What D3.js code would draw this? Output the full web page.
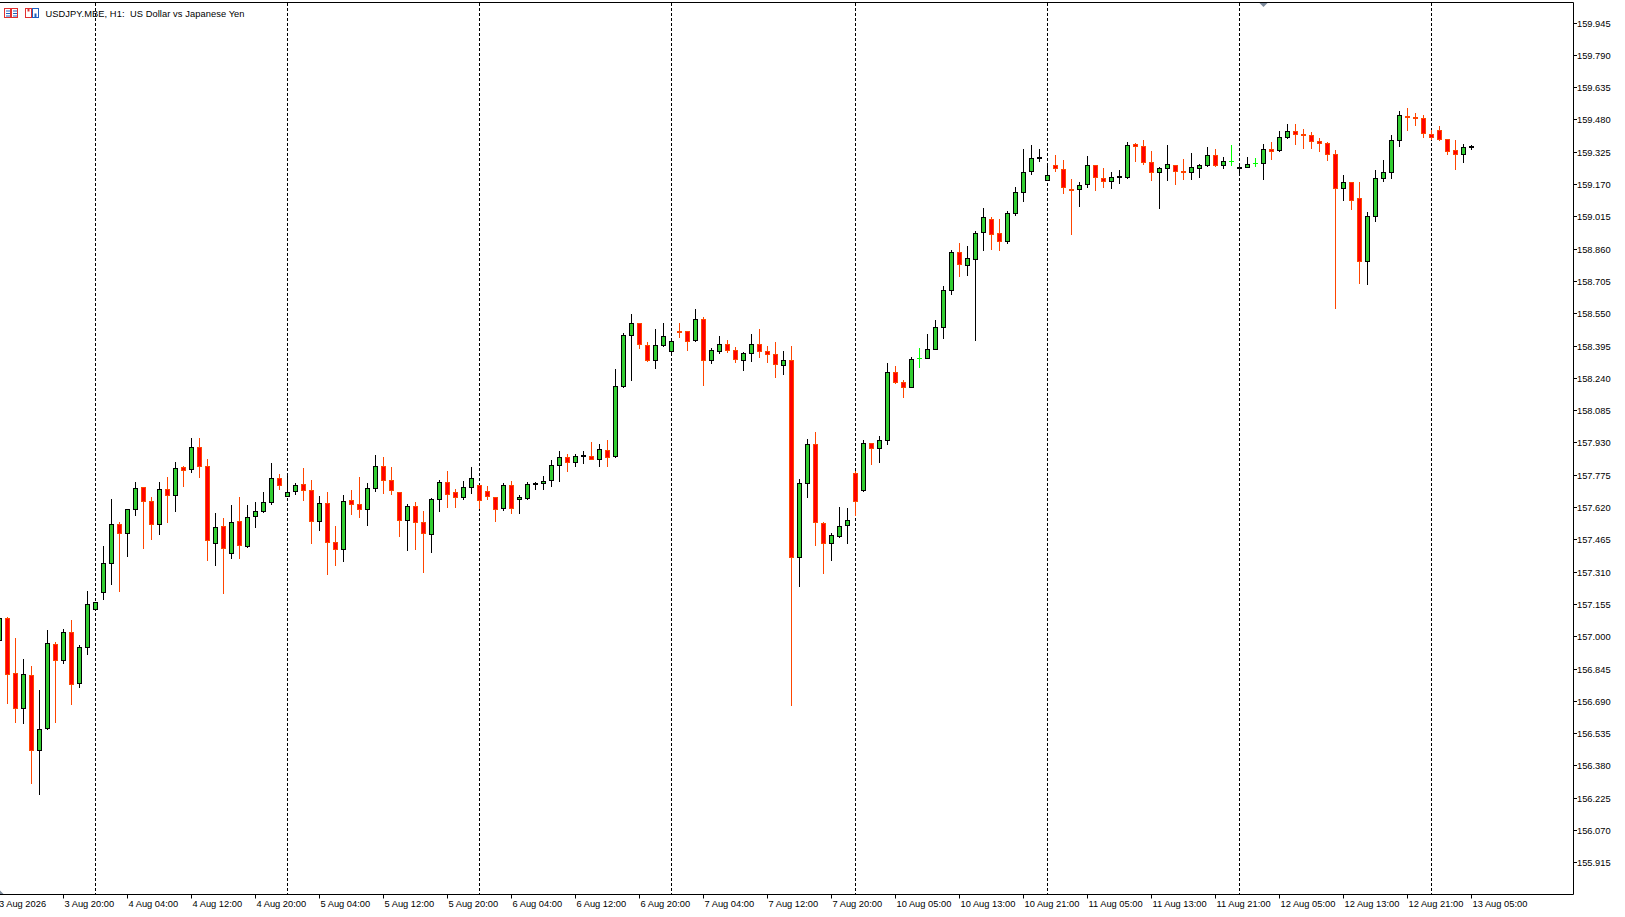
<!DOCTYPE html>
<html><head><meta charset="utf-8">
<script src="https://cdn.jsdelivr.net/npm/d3@7/dist/d3.min.js"></script>
<style>html,body{margin:0;padding:0;background:#fff;overflow:hidden}</style>
</head><body>
<svg id="c" width="1625" height="917"></svg>
<script>
// ---- data: USDJPY H1, bars from 3 Aug 12:00 to 13 Aug 05:00 ----
const opens = [156.981,157.086,156.822,156.654,156.813,156.454,156.558,156.961,156.885,157.019,156.774,156.947,157.129,157.211,157.350,157.537,157.494,157.609,157.715,157.648,157.537,157.705,157.676,157.811,157.801,157.907,157.815,157.446,157.528,157.398,157.552,157.432,157.576,157.600,157.643,157.758,157.671,157.695,157.729,157.700,157.552,157.638,157.451,157.417,157.652,157.633,157.609,157.710,157.815,157.748,157.691,157.556,157.624,157.547,157.489,157.657,157.739,157.691,157.667,157.715,157.724,157.695,157.667,157.614,157.724,157.657,157.662,157.729,157.734,157.748,157.820,157.859,157.835,157.863,157.863,157.849,157.892,157.863,158.199,158.444,158.502,158.396,158.324,158.396,158.367,158.465,158.463,158.420,158.521,158.324,158.367,158.401,158.372,158.324,158.358,158.401,158.367,158.353,158.300,158.324,157.379,157.734,157.921,157.542,157.446,157.480,157.532,157.782,157.700,157.926,157.902,157.940,158.267,158.219,158.195,158.334,158.334,158.377,158.482,158.660,158.842,158.780,158.809,158.938,159.001,158.934,158.895,159.029,159.130,159.231,159.293,159.188,159.260,159.241,159.147,159.145,159.169,159.260,159.197,159.183,159.202,159.202,159.361,159.351,159.274,159.226,159.245,159.260,159.233,159.226,159.245,159.260,159.308,159.260,159.279,159.245,159.250,159.269,159.269,159.337,159.332,159.394,159.423,159.408,159.404,159.375,159.365,159.313,159.149,159.178,159.101,158.799,159.015,159.197,159.226,159.380,159.495,159.490,159.485,159.409,159.428,159.385,159.332,159.313,159.346];
const highs = [157.116,157.092,156.992,156.889,156.857,156.742,157.030,156.972,157.035,157.078,156.957,157.217,157.166,157.432,157.657,157.547,157.609,157.739,157.715,157.667,157.739,157.763,157.835,157.815,157.950,157.950,157.849,157.590,157.566,157.628,157.667,157.628,157.643,157.691,157.830,157.777,157.767,157.734,157.806,157.748,157.671,157.691,157.528,157.676,157.700,157.763,157.734,157.868,157.859,157.811,157.691,157.633,157.643,157.600,157.662,157.748,157.791,157.705,157.743,157.811,157.724,157.719,157.667,157.734,157.743,157.676,157.739,157.739,157.767,157.844,157.887,157.873,157.873,157.887,157.931,157.921,157.940,158.281,158.454,158.545,158.502,158.410,158.473,158.502,158.415,158.502,158.463,158.569,158.530,158.382,158.439,158.420,158.386,158.362,158.449,158.473,158.391,158.410,158.367,158.391,157.753,157.945,157.979,157.547,157.494,157.619,157.614,157.791,157.940,157.926,157.959,158.310,158.295,158.228,158.338,158.382,158.449,158.516,158.679,158.852,158.886,158.871,158.943,159.053,159.010,159.001,159.039,159.154,159.337,159.356,159.337,159.265,159.308,159.284,159.193,159.178,159.303,159.260,159.245,159.226,159.236,159.370,159.365,159.380,159.327,159.250,159.356,159.260,159.289,159.317,159.265,159.346,159.337,159.298,159.356,159.269,159.298,159.293,159.361,159.370,159.423,159.457,159.457,159.433,159.418,159.389,159.370,159.332,159.212,159.178,159.178,159.034,159.236,159.284,159.404,159.519,159.533,159.509,159.500,159.428,159.447,159.385,159.380,159.361,159.356];
const lows = [156.958,156.678,156.587,156.582,156.296,156.243,156.553,156.590,156.873,156.673,156.755,156.916,157.126,157.180,157.252,157.219,157.386,157.583,157.425,157.468,157.492,157.550,157.602,157.722,157.787,157.766,157.366,157.342,157.208,157.374,157.374,157.427,157.523,157.595,157.633,157.705,157.671,157.681,157.652,157.446,157.508,157.299,157.342,157.361,157.585,157.571,157.532,157.695,157.686,157.681,157.480,157.412,157.417,157.308,157.403,157.600,157.619,157.619,157.657,157.686,157.614,157.657,157.552,157.604,157.590,157.590,157.657,157.705,157.705,157.719,157.743,157.791,157.815,157.830,157.849,157.815,157.815,157.859,158.195,158.228,158.382,158.319,158.286,158.391,158.362,158.434,158.372,158.415,158.207,158.310,158.358,158.362,158.314,158.279,158.319,158.338,158.314,158.243,158.257,156.669,157.240,157.667,157.436,157.302,157.364,157.475,157.446,157.580,157.695,157.825,157.835,157.921,158.214,158.147,158.195,158.291,158.334,158.377,158.430,158.641,158.727,158.732,158.420,158.852,158.857,158.852,158.886,159.020,159.087,159.217,159.279,159.188,159.231,159.125,158.929,159.063,159.154,159.140,159.154,159.149,159.173,159.197,159.279,159.265,159.188,159.053,159.188,159.169,159.193,159.193,159.202,159.255,159.255,159.245,159.260,159.226,159.250,159.255,159.193,159.289,159.327,159.389,159.361,159.341,159.341,159.327,159.284,158.574,159.092,159.049,158.694,158.689,158.991,159.183,159.197,159.351,159.428,159.452,159.394,159.385,159.380,159.313,159.241,159.274,159.337];
const closes = [157.086,156.817,156.657,156.817,156.454,156.553,156.966,156.885,157.019,156.769,156.947,157.153,157.163,157.350,157.537,157.494,157.609,157.710,157.648,157.537,157.705,157.676,157.806,157.796,157.907,157.815,157.460,157.523,157.422,157.547,157.436,157.571,157.600,157.643,157.758,157.724,157.691,157.724,157.700,157.552,157.638,157.451,157.417,157.648,157.633,157.609,157.710,157.815,157.748,157.700,157.556,157.624,157.547,157.494,157.657,157.739,157.681,157.667,157.715,157.758,157.652,157.671,157.609,157.724,157.614,157.667,157.729,157.734,157.743,157.820,157.859,157.835,157.863,157.868,157.849,157.897,157.859,158.199,158.444,158.502,158.401,158.324,158.396,158.439,158.415,158.461,158.415,158.521,158.324,158.372,158.401,158.372,158.329,158.358,158.401,158.367,158.353,158.305,158.324,157.379,157.734,157.921,157.547,157.446,157.484,157.528,157.556,157.648,157.926,157.902,157.940,158.267,158.219,158.195,158.329,158.334,158.377,158.482,158.660,158.842,158.785,158.814,158.934,159.010,158.929,158.895,159.029,159.130,159.226,159.293,159.298,159.212,159.245,159.154,159.143,159.164,159.260,159.202,159.183,159.202,159.207,159.356,159.351,159.274,159.226,159.245,159.265,159.231,159.229,159.250,159.260,159.308,159.260,159.279,159.279,159.250,159.265,159.269,159.337,159.327,159.394,159.423,159.409,159.404,159.375,159.365,159.313,159.149,159.178,159.092,158.799,159.015,159.197,159.226,159.380,159.500,159.491,159.486,159.413,159.394,159.385,159.327,159.313,159.346,159.351];
// bar indices where a new trading day starts (period separators)
const dayStarts = [12, 36, 60, 84, 107, 131, 155, 179];
// time-axis labels, one every 8 bars starting at bar 8
const timeLabels = ["3 Aug 20:00","4 Aug 04:00","4 Aug 12:00","4 Aug 20:00","5 Aug 04:00","5 Aug 12:00","5 Aug 20:00","6 Aug 04:00","6 Aug 12:00","6 Aug 20:00","7 Aug 04:00","7 Aug 12:00","7 Aug 20:00","10 Aug 05:00","10 Aug 13:00","10 Aug 21:00","11 Aug 05:00","11 Aug 13:00","11 Aug 21:00","12 Aug 05:00","12 Aug 13:00","12 Aug 21:00","13 Aug 05:00"];
const firstLabel = "3 Aug 2026";
const priceTicks = [159.945,159.790,159.635,159.480,159.325,159.170,159.015,158.860,158.705,158.550,158.395,158.240,158.085,157.930,157.775,157.620,157.465,157.310,157.155,157.000,156.845,156.690,156.535,156.380,156.225,156.070,155.915];
const titleText = "USDJPY.MBE, H1:  US Dollar vs Japanese Yen";

// ---- drawing ----
const FONT = "'Liberation Sans', Arial, sans-serif";
const svg = d3.select("#c");
svg.append("rect").attr("width",1625).attr("height",917).attr("fill","#fff");

const n = opens.length;
const x = d3.scaleLinear().domain([0, n-1]).range([-0.7, 1471.3]);
const y = d3.scaleLinear().domain([159.945, 155.915]).range([22.5, 862.4]);
const cx = i => Math.floor(x(i)) + 0.5;
const py = v => Math.round(y(v)) + 0.5;

const plotR = 1573.5, plotT = 2.5, plotB = 894.5;

svg.append("clipPath").attr("id","pc").append("rect")
  .attr("x",0).attr("y",3).attr("width",1573).attr("height",891);

const g = svg.append("g").attr("clip-path","url(#pc)");

// separators
g.selectAll("line.sep").data(dayStarts).join("line").attr("class","sep")
  .attr("x1",d=>cx(d)).attr("x2",d=>cx(d)).attr("y1",3).attr("y2",894)
  .attr("stroke","#000").attr("stroke-width",1).attr("stroke-dasharray","3,2");

const bars = d3.range(n).map(i => ({i, o:opens[i], h:highs[i], l:lows[i], c:closes[i]}));
const BULL_FILL = "#32CD32", BEAR_FILL = "#FF0000", BULL_LINE = "#000000", BEAR_LINE = "#FF4500", DOJI = "#00FF00";
const lineCol = d => d.c === d.o ? DOJI : (d.c > d.o ? BULL_LINE : BEAR_LINE);

// wicks
g.selectAll("line.wick").data(bars).join("line").attr("class","wick")
  .attr("x1",d=>cx(d.i)).attr("x2",d=>cx(d.i))
  .attr("y1",d=>Math.round(y(d.h))).attr("y2",d=>Math.round(y(d.l))+1)
  .attr("stroke",lineCol).attr("stroke-width",1);

// bodies
const real = bars.filter(d => d.c !== d.o);
g.selectAll("rect.body").data(real).join("rect").attr("class","body")
  .attr("x",d=>cx(d.i)-2).attr("width",4)
  .attr("y",d=>py(Math.max(d.o,d.c)))
  .attr("height",d=>Math.max(py(Math.min(d.o,d.c)) - py(Math.max(d.o,d.c)), 1))
  .attr("fill",d=>d.c>d.o?BULL_FILL:BEAR_FILL)
  .attr("stroke",lineCol).attr("stroke-width",1);

// doji crosses
const dojis = bars.filter(d => d.c === d.o);
g.selectAll("line.doji").data(dojis).join("line").attr("class","doji")
  .attr("x1",d=>cx(d.i)-2.5).attr("x2",d=>cx(d.i)+2.5)
  .attr("y1",d=>py(d.o)).attr("y2",d=>py(d.o))
  .attr("stroke",DOJI).attr("stroke-width",1);

// frame
svg.append("path").attr("d",`M0,${plotT}H${plotR}V${plotB}H0`)
  .attr("fill","none").attr("stroke","#000").attr("stroke-width",1);

// price axis
const pa = svg.append("g");
pa.selectAll("line").data(priceTicks).join("line")
  .attr("x1",plotR).attr("x2",1577).attr("y1",d=>py(d)).attr("y2",d=>py(d))
  .attr("stroke","#000");
pa.selectAll("text").data(priceTicks).join("text")
  .attr("x",1577).attr("y",d=>py(d)+3.2)
  .attr("font-family",FONT).attr("font-size","9.3px").attr("fill","#000")
  .text(d=>d.toFixed(3));

// time axis
const labelData = timeLabels.map((t,j)=>({t, i:8*(j+1)}));
const ta = svg.append("g");
ta.selectAll("line").data(labelData).join("line")
  .attr("x1",d=>cx(d.i)).attr("x2",d=>cx(d.i)).attr("y1",plotB).attr("y2",898.5)
  .attr("stroke","#000");
ta.selectAll("text").data(labelData).join("text")
  .attr("x",d=>cx(d.i)+1).attr("y",906.5)
  .attr("font-family",FONT).attr("font-size","9.3px").attr("fill","#000")
  .text(d=>d.t);
ta.append("text").attr("x",-1).attr("y",906.5)
  .attr("font-family",FONT).attr("font-size","9.3px").attr("fill","#000").text(firstLabel);

// shift markers
svg.append("polygon").attr("points","1259.5,3 1267.5,3 1263.5,7").attr("fill","#7d8b9c");
svg.append("polygon").attr("points","0,890.5 3.5,894 0,894").attr("fill","#7d8b9c");

// title with icons
const ic = svg.append("g");
ic.append("rect").attr("x",4.5).attr("y",8.5).attr("width",6).attr("height",9).attr("fill","#fff").attr("stroke","#e03030");
ic.append("rect").attr("x",11.5).attr("y",8.5).attr("width",6).attr("height",9).attr("fill","#fff").attr("stroke","#e03030");
[11,13.5,16].forEach(yy=>{
  ic.append("line").attr("x1",6).attr("x2",10).attr("y1",yy).attr("y2",yy).attr("stroke","#2060c0");
  ic.append("line").attr("x1",13).attr("x2",17).attr("y1",yy).attr("y2",yy).attr("stroke","#2060c0");
});
ic.append("rect").attr("x",25.5).attr("y",8.5).attr("width",6).attr("height",9).attr("fill","#fff").attr("stroke","#e03030");
ic.append("rect").attr("x",27.5).attr("y",8.5).attr("width",2).attr("height",3).attr("fill","#e03030");
ic.append("rect").attr("x",32.5).attr("y",8.5).attr("width",6).attr("height",9).attr("fill","#fff").attr("stroke","#2060c0");
ic.append("rect").attr("x",34.5).attr("y",13.5).attr("width",2).attr("height",4).attr("fill","#2060c0");
svg.append("text").attr("x",45.5).attr("y",17.3)
  .attr("font-family",FONT).attr("font-size","9.3px").attr("fill","#000")
  .style("white-space","pre").attr("textLength",199).attr("lengthAdjust","spacing")
  .text(titleText);
</script>
</body></html>
